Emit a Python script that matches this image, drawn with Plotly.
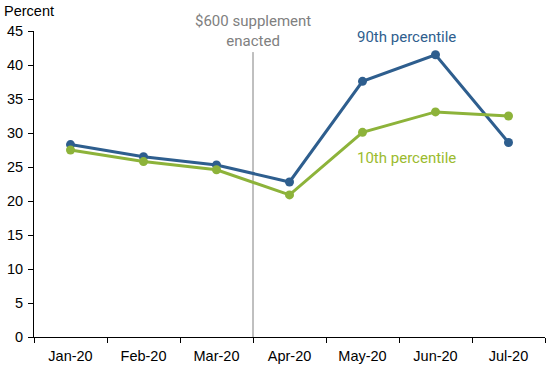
import plotly.graph_objects as go

months = ["Jan-20", "Feb-20", "Mar-20", "Apr-20", "May-20", "Jun-20", "Jul-20"]
p90 = [28.3, 26.5, 25.3, 22.8, 37.6, 41.5, 28.6]
p10 = [27.5, 25.8, 24.6, 20.9, 30.1, 33.1, 32.5]

BLUE = "#2E5E8E"
GREEN = "#8DB33A"

fig = go.Figure()
fig.add_trace(go.Scatter(x=months, y=p90, mode="lines+markers", name="90th percentile",
                         line=dict(color=BLUE, width=3), marker=dict(size=9, color=BLUE)))
fig.add_trace(go.Scatter(x=months, y=p10, mode="lines+markers", name="10th percentile",
                         line=dict(color=GREEN, width=3), marker=dict(size=9, color=GREEN)))

fig.add_shape(type="line", xref="x", yref="y", x0=2.5, x1=2.5, y0=0, y1=41.9,
              line=dict(color="#808080", width=1), layer="below")

fig.add_annotation(x=2.5, y=45.0, xref="x", yref="y", text="$600 supplement<br>enacted",
                   showarrow=False, font=dict(family="Roboto", size=15, color="#808080"),
                   align="center", yanchor="middle")
fig.add_annotation(x=4.6, y=44.1, xref="x", yref="y", text="90th percentile",
                   showarrow=False, font=dict(family="Roboto", size=15, color=BLUE))
fig.add_annotation(x=4.6, y=26.3, xref="x", yref="y", text="10th percentile",
                   showarrow=False, font=dict(family="Roboto", size=15, color="#9BBB2E"))
fig.add_annotation(x=-0.0607, y=1.065, xref="paper", yref="paper", text="Percent",
                   showarrow=False, xanchor="left", yanchor="middle", borderpad=0,
                   font=dict(family="Liberation Sans, Arial", size=14.5, color="black"))

fig.update_layout(
    width=550, height=365,
    margin=dict(l=34, r=5, t=31, b=28),
    plot_bgcolor="white", paper_bgcolor="white",
    showlegend=False,
    font=dict(family="Liberation Sans, Arial", size=14.5, color="black"),
)
fig.update_xaxes(type="category", range=[-0.5, 6.5], showline=True, linecolor="black", linewidth=1,
                 ticks="outside", ticklen=5, tickcolor="black", tickson="boundaries",
                 showgrid=False, tickfont=dict(size=14.5), automargin=False, ticklabelstandoff=6)
fig.update_yaxes(range=[0, 45], dtick=5, showline=True, linecolor="black", linewidth=1,
                 ticks="outside", ticklen=5, tickcolor="black", showgrid=False, zeroline=False,
                 tickfont=dict(size=14.5), automargin=False, ticklabelstandoff=2)

fig.write_html("out.html", config={"displayModeBar": False},
               post_script="document.body.style.margin='0px';")
